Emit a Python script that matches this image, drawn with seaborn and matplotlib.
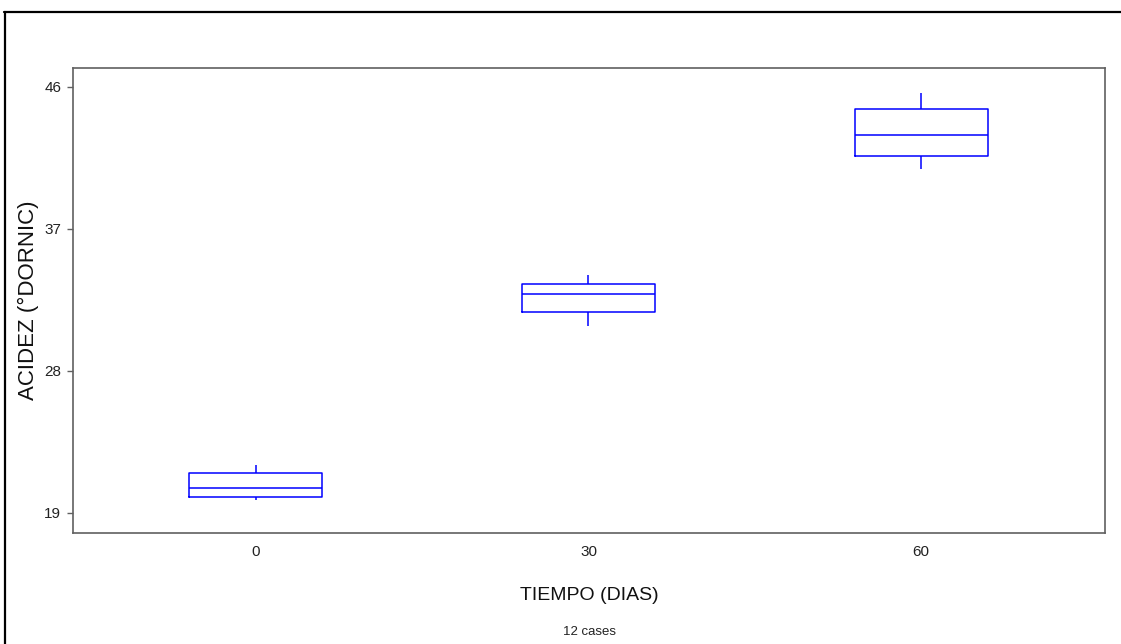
import numpy as np
import pandas as pd
import matplotlib
matplotlib.use("Agg")
import matplotlib.pyplot as plt
import seaborn as sns
from matplotlib.lines import Line2D

# five-number summary per group
tiempo = ["0", "30", "60"]
whisker_low = [19.83, 30.85, 40.80]
q1 = [20.02, 31.74, 41.63]
median = [20.59, 32.88, 42.96]
q3 = [21.54, 33.52, 44.61]
whisker_high = [22.05, 34.09, 45.62]

rows = []
for i, t in enumerate(tiempo):
    for v in (whisker_low[i], q1[i], median[i], q3[i], whisker_high[i]):
        rows.append({"tiempo": t, "acidez": v})
df = pd.DataFrame(rows)

sns.set_style("white")
plt.rcParams["font.family"] = ["Liberation Sans Narrow", "Liberation Sans", "DejaVu Sans"]

fig = plt.figure(figsize=(11.21, 6.44), dpi=100)
ax = fig.add_axes([0.0651, 0.1724, 0.9206, 0.722])

sns.boxplot(data=df, x="tiempo", y="acidez", order=tiempo, ax=ax,
            fill=False, color="#0000FF", linecolor="#0000FF", width=0.4,
            showcaps=False, whis=10, linewidth=1.1,
            medianprops={"color": "#0000FF", "linewidth": 1.1})

ax.set_xlim(-0.55, 2.553)
ax.set_ylim(17.73, 47.2)
ax.set_yticks([19, 28, 37, 46])
ax.set_yticklabels(["19", "28", "37", "46"])

for s in ax.spines.values():
    s.set_visible(True)
    s.set_color("#606060")
    s.set_linewidth(1.2)

ax.tick_params(axis="x", length=0, pad=9, labelsize=11, colors="#222222")
ax.tick_params(axis="y", left=True, length=4.5, width=1, color="#606060",
               pad=4, labelsize=11, labelcolor="#222222")

ax.set_xlabel("TIEMPO (DIAS)", fontsize=14, labelpad=20, color="#111111")
ax.set_ylabel("ACIDEZ (°DORNIC)", fontsize=16, labelpad=4, color="#111111",
              family=["Liberation Sans", "DejaVu Sans"])

fig.text(0.5255, 1 - 632 / 644, "12 cases", ha="center", va="center",
         fontsize=9.5, color="#222222")

# outer frame (top and left only)
fig.add_artist(Line2D([4 / 1121, 1.0], [1 - 11.5 / 644, 1 - 11.5 / 644],
                      transform=fig.transFigure, color="black", linewidth=1.6))
fig.add_artist(Line2D([4.5 / 1121, 4.5 / 1121], [0.0, 1 - 11.5 / 644],
                      transform=fig.transFigure, color="black", linewidth=1.6))

fig.savefig("out.png", dpi=100)
